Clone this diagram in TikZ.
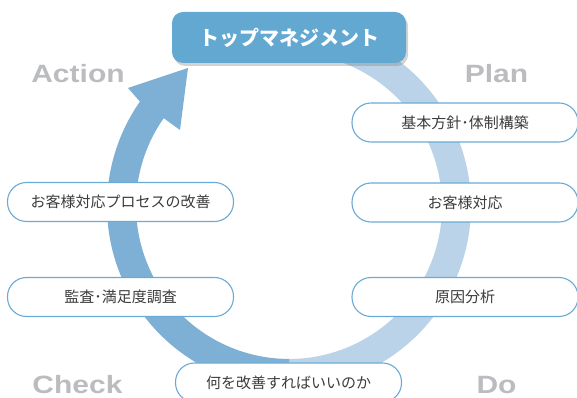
\documentclass[tikz,border=0pt]{standalone}
\usepackage{fontspec}
\usetikzlibrary{shadows}
\newfontfamily\jp{Noto Sans CJK JP}
\newfontfamily\lblfont{Liberation Sans}[FakeStretch=1.2]
\definecolor{darkband}{HTML}{7EB0D5}
\definecolor{lightband}{HTML}{BAD3E8}
\definecolor{topblue}{HTML}{62A8D1}
\definecolor{boxblue}{HTML}{6AAAD4}
\definecolor{txtgray}{HTML}{3C3C3C}
\definecolor{lblgray}{HTML}{BBBCBF}
\tikzset{
  pill/.style={draw=boxblue, line width=1.1pt, fill=white, rounded corners=19pt,
    minimum height=39pt, minimum width=226pt, inner sep=0pt,
    font=\jp\fontsize{15}{15}\selectfont, text=txtgray},
  pdca/.style={font=\lblfont\bfseries\fontsize{25}{25}\selectfont, text=lblgray, anchor=base, inner sep=0pt},
  topbox/.style={fill=topblue, rounded corners=11pt, minimum width=234pt, minimum height=51pt,
    inner sep=0pt, font=\jp\bfseries\fontsize{20}{20}\selectfont, text=white,
    drop shadow={shadow xshift=2pt, shadow yshift=-3pt, opacity=0.35}}
}
\begin{document}
\begin{tikzpicture}[x=1pt,y=1pt]
\useasboundingbox (0,0) rectangle (577,398);
\coordinate (c) at (289,192);
% light half (Plan/Do side)
\fill[lightband] (c) ++(-90:182) arc[start angle=-90, end angle=95, radius=182]
  -- ++(95:-29) arc[start angle=95, end angle=-90, radius=153] -- cycle;
% dark half with arrow (Check/Action side)
\fill[darkband] (c) ++(270:182) arc[start angle=270, end angle=145, radius=182]
  -- (128,310) -- (188,330) -- (180,268) -- (163.7,279.8)
  arc[start angle=145, end angle=270, radius=153] -- cycle;
% top box
\node[topbox] (top) at (289,360.5) {トップマネジメント};
% right boxes
\node[pill] (p1) at (465,275.5) {基本方針･体制構築};
\node[pill] (p2) at (465,195.5) {お客様対応};
\node[pill] (d1) at (465,101) {原因分析};
% left boxes
\node[pill] (a1) at (120.5,196) {お客様対応プロセスの改善};
\node[pill] (c1) at (120.5,101) {監査･満足度調査};
% bottom box
\node[pill] (b1) at (288.5,15.5) {何を改善すればいいのか};
% PDCA labels
\node[pdca] (lA) at (78,315) {Action};
\node[pdca] (lP) at (496.5,315) {Plan};
\node[pdca] (lC) at (77.5,5) {Check};
\node[pdca] (lD) at (496.5,5) {Do};
\end{tikzpicture}
\end{document}
